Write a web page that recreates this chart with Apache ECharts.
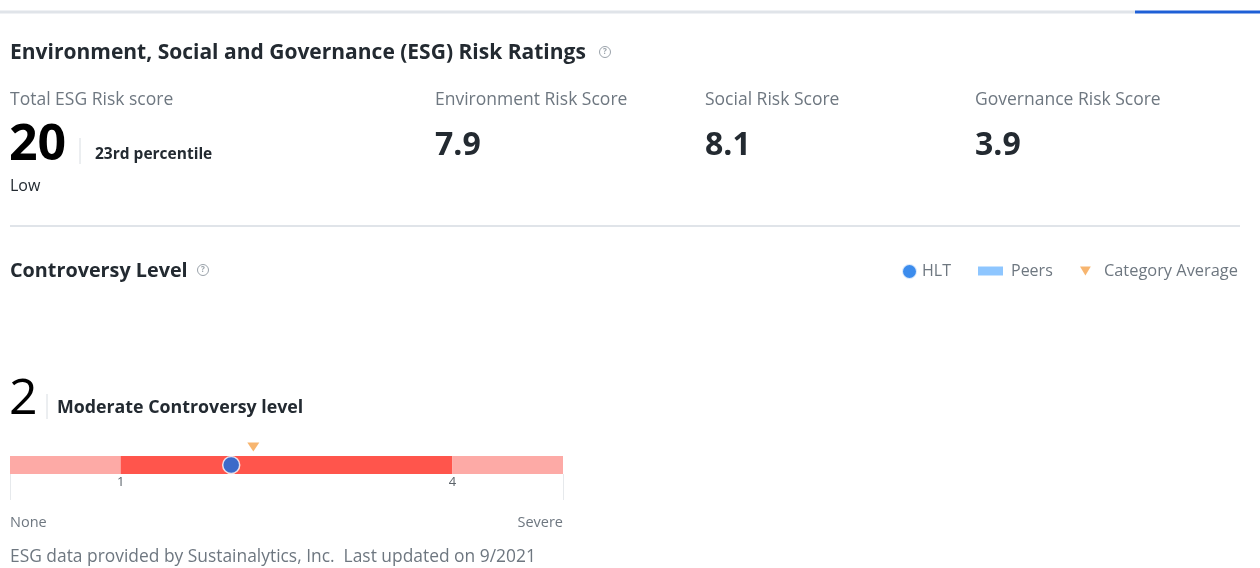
<!DOCTYPE html>
<html>
<head>
<meta charset="utf-8">
<script src="https://cdn.jsdelivr.net/npm/echarts@6/dist/echarts.min.js"></script>
<style>
html,body{margin:0;padding:0;background:#fff;}
#c{width:1260px;height:568px;}
</style>
</head>
<body>
<div id="c"></div>
<script>
// ---- data ----
const scoreLabels = ['Total ESG Risk score', 'Environment Risk Score', 'Social Risk Score', 'Governance Risk Score'];
const scoreValues = ['20', '7.9', '8.1', '3.9'];
const totalPercentile = '23rd percentile';
const totalLevel = 'Low';
const controversyValue = 2;
const controversyText = 'Moderate Controversy level';
const scaleMin = 0;
const scaleMax = 5;
const peersRange = [1, 4];
const hltValue = [2.0];
const categoryAverage = [2.2];
const tickValues = [1, 4];
const endLabels = ['None', 'Severe'];
const legendNames = ['HLT', 'Peers', 'Category Average'];

const FONT = '"Open Sans", "Noto Sans", sans-serif';
const DARK = '#232a31';
const GREY = '#6e7780';
const BLUE = '#0b6fe8';
const ORANGE = '#f5a24b';

const chart = echarts.init(document.getElementById('c'), null, {renderer: 'canvas'});

function helpIcon(cx, cy) {
  return [
    {type: 'circle', shape: {cx: cx, cy: cy, r: 5.5}, style: {fill: 'none', stroke: '#9aa2aa', lineWidth: 1}},
    {type: 'text', x: cx, y: cy, style: {text: '?', font: 'bold 8px ' + FONT, fill: '#9aa2aa', align: 'center', verticalAlign: 'middle'}}
  ];
}

const scoreX = [10, 435, 705, 975];
const graphics = [
  {type: 'line', shape: {x1: 0, y1: 12, x2: 1135, y2: 12}, style: {stroke: '#e0e4e9', lineWidth: 3}},
  {type: 'line', shape: {x1: 1135, y1: 12, x2: 1260, y2: 12}, style: {stroke: '#1e5fd6', lineWidth: 3}},
  {type: 'text', x: 10, y: 53, style: {text: 'Environment, Social and Governance (ESG) Risk Ratings', font: 'bold 21px ' + FONT, fill: DARK, verticalAlign: 'middle'}},
  ...helpIcon(605, 52),
  {type: 'line', shape: {x1: 10, y1: 226, x2: 1240, y2: 226}, style: {stroke: '#e0e4e9', lineWidth: 2}},
  {type: 'text', x: 10, y: 271, style: {text: 'Controversy Level', font: 'bold 19.8px ' + FONT, fill: DARK, verticalAlign: 'middle'}},
  ...helpIcon(203, 270),
  {type: 'text', x: 10, y: 557, style: {text: 'ESG data provided by Sustainalytics, Inc.  Last updated on 9/2021', font: '17.4px ' + FONT, fill: GREY, verticalAlign: 'middle'}},
  // total score block
  {type: 'text', x: 9, y: 146, style: {text: scoreValues[0], font: 'bold 50px ' + FONT, fill: '#000', verticalAlign: 'middle'}},
  {type: 'line', shape: {x1: 80, y1: 138, x2: 80, y2: 164}, style: {stroke: '#d8dde2', lineWidth: 1}},
  {type: 'text', x: 95, y: 155, style: {text: totalPercentile, font: 'bold 15.5px ' + FONT, fill: DARK, verticalAlign: 'middle'}},
  {type: 'text', x: 10, y: 186, style: {text: totalLevel, font: '16px ' + FONT, fill: DARK, verticalAlign: 'middle'}},
  // controversy value
  {type: 'text', x: 9, y: 400, style: {text: String(controversyValue), font: '50px ' + FONT, fill: '#000', verticalAlign: 'middle'}},
  {type: 'line', shape: {x1: 47, y1: 394, x2: 47, y2: 419}, style: {stroke: '#d8dde2', lineWidth: 1}},
  {type: 'text', x: 57, y: 408, style: {text: controversyText, font: 'bold 17.8px ' + FONT, fill: DARK, verticalAlign: 'middle'}}
];
scoreLabels.forEach((l, i) => {
  graphics.push({type: 'text', x: scoreX[i], y: 100, style: {text: l, font: '17.5px ' + FONT, fill: GREY, verticalAlign: 'middle'}});
  if (i > 0) graphics.push({type: 'text', x: scoreX[i], y: 146, style: {text: scoreValues[i], font: 'bold 32px ' + FONT, fill: DARK, verticalAlign: 'middle'}});
});

const seg0 = peersRange[0] - scaleMin;
const seg1 = peersRange[1] - peersRange[0];
const seg2 = scaleMax - peersRange[1];

const legendText = {fontFamily: FONT, fontSize: 16, color: GREY};
const option = {
  animation: false,
  graphic: graphics,
  legend: [
    {left: 901, top: 263, padding: 0, itemWidth: 15, itemHeight: 15, itemGap: 0, textStyle: legendText,
      data: [{name: legendNames[0], icon: 'circle', itemStyle: {color: BLUE}}]},
    {left: 978, top: 263, padding: 0, itemWidth: 25, itemHeight: 9, itemGap: 0,
      textStyle: Object.assign({}, legendText, {padding: [0, 0, 0, 3]}),
      data: [{name: legendNames[1], icon: 'rect', itemStyle: {color: '#8ec6ff'}}]},
    {left: 1080, top: 263, padding: 0, itemWidth: 21, itemHeight: 9, itemGap: 0,
      textStyle: Object.assign({}, legendText, {fontSize: 16.4, padding: [0, 0, 0, 3]}),
      data: [{name: legendNames[2], icon: 'path://M0,0L12,0L6,10Z', symbolKeepAspect: true, itemStyle: {color: ORANGE}}]}
  ],
  grid: {left: 10, width: 553, top: 456, height: 18},
  xAxis: [
    {
      type: 'value', min: scaleMin, max: scaleMax, gridIndex: 0,
      splitLine: {show: false}, axisLine: {show: false},
      axisTick: {show: true, customValues: [scaleMin, scaleMax], length: 26, lineStyle: {color: '#e6e9ec'}},
      axisLabel: {customValues: tickValues, margin: 2, fontFamily: FONT, fontSize: 13, color: '#5b636a'}
    },
    {
      type: 'value', min: scaleMin, max: scaleMax, gridIndex: 0, position: 'bottom', offset: 33,
      splitLine: {show: false}, axisLine: {show: false}, axisTick: {show: false},
      axisLabel: {customValues: [scaleMin, scaleMax], alignMinLabel: 'left', alignMaxLabel: 'right',
        formatter: v => v === scaleMin ? endLabels[0] : endLabels[1],
        fontFamily: FONT, fontSize: 14.5, color: GREY}
    }
  ],
  yAxis: {type: 'category', data: ['c'], show: false},
  series: [
    {name: 'low', type: 'bar', stack: 's', barWidth: 18, data: [seg0], itemStyle: {color: '#fdaaa6'}, silent: true},
    {name: 'Peers', type: 'bar', stack: 's', barWidth: 18, data: [seg1], itemStyle: {color: '#ff554c'}},
    {name: 'high', type: 'bar', stack: 's', barWidth: 18, data: [seg2], itemStyle: {color: '#fdaaa6'}, silent: true},
    {name: 'HLT', type: 'scatter', data: hltValue.map(v => [v, 'c']), symbol: 'circle', symbolSize: 17,
      itemStyle: {color: BLUE, borderColor: '#fff', borderWidth: 1.5}, z: 5},
    {name: 'Category Average', type: 'scatter', data: categoryAverage.map(v => [v, 'c']), symbol: 'triangle', symbolRotate: 180,
      symbolSize: [12, 9], symbolOffset: [0, -18], itemStyle: {color: ORANGE}, z: 5}
  ]
};
chart.setOption(option);
</script>
</body>
</html>
